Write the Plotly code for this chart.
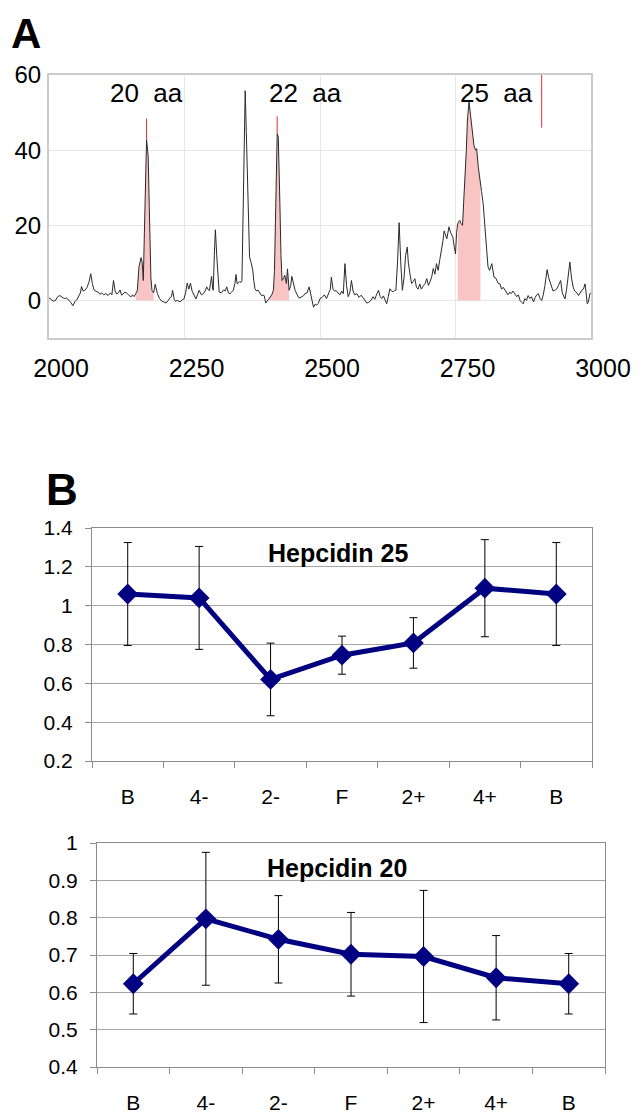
import plotly.graph_objects as go

# ---------------- Panel A : mass spectrum ----------------
mz = [2000,2004,2008,2012,2016,2020,2024,2028,2032,2036,2040,2044,2048,2052,2055,2058,2060,2063,2066,2070,
      2074,2077,2080,2083,2087,2091,2094,2097,2101,2105,2109,2113,2116,2119,2122,2125,2128,2131,2134,2137,
      2140,2143,2147,2151,2154,2157,2160,2163,2166,2168,2170,2172,2174,2176,2178,2180,2182,2183,2185,2186,
      2188,2190,2193,2196,2198,2200,2204,2208,2212,2216,2220,2223,2226,2228,2231,2233,2237,2242,2246,2249,
      2252,2255,2258,2261,2264,2266,2269,2271,2274,2277,2281,2285,2288,2291,2294,2296,2298,2300,2302,2303,
      2305,2307,2310,2312,2314,2318,2322,2325,2328,2331,2334,2337,2340,2343,2345,2347,2349,2352,2354,2356,
      2358,2360,2362,2364,2366,2368,2370,2373,2376,2378,2380,2383,2386,2389,2392,2395,2397,2400,2403,2406,
      2408,2411,2414,2416,2417,2419,2421,2423,2425,2426,2428,2430,2433,2435,2438,2440,2443,2446,2448,2451,
      2454,2458,2461,2463,2467,2470,2472,2476,2480,2483,2486,2488,2491,2494,2497,2500,2504,2508,2512,2516,
      2519,2521,2524,2527,2530,2533,2537,2540,2543,2546,2549,2552,2555,2558,2561,2564,2568,2572,2576,2580,
      2583,2586,2590,2594,2598,2601,2605,2608,2611,2614,2617,2620,2623,2626,2629,2632,2635,2638,2640,2643,
      2646,2649,2652,2655,2658,2661,2663,2666,2669,2672,2675,2678,2681,2684,2687,2691,2694,2697,2700,2703,
      2706,2709,2712,2715,2718,2721,2724,2727,2729,2732,2734,2736,2738,2741,2745,2748,2750,2752,2754,2756,
      2758,2760,2763,2765,2768,2770,2772,2775,2778,2780,2782,2784,2787,2789,2792,2794,2796,2798,2801,2804,
      2806,2808,2810,2813,2817,2819,2821,2824,2826,2829,2832,2835,2838,2841,2844,2847,2850,2853,2856,2860,
      2863,2866,2869,2872,2875,2878,2881,2884,2887,2890,2894,2897,2900,2903,2906,2909,2912,2915,2919,2922,
      2925,2927,2930,2934,2937,2940,2944,2947,2950,2952,2955,2958,2961,2964,2967,2970,2974,2977,2980,2983,
      2986,2989,2991,2993,2995,2998,3000]
intensity = [0.7,0.2,-0.2,0.0,1.0,1.3,0.8,0.5,0.6,0.2,-0.5,-1.4,-0.3,0.3,1.2,2.0,3.7,2.5,2.7,3.4,
      5.0,7.1,4.5,2.8,2.4,2.2,1.6,2.0,1.5,1.8,1.3,2.0,1.5,5.3,2.5,1.7,2.0,2.8,1.4,1.7,
      2.2,2.0,1.5,0.9,1.5,1.0,1.8,2.7,9.0,10.7,11.4,10.0,5.3,18.0,35.0,42.7,40.0,38.2,25.0,16.0,
      6.0,2.7,2.0,4.3,3.0,1.8,0.5,-0.2,-0.4,-0.7,0.0,0.7,1.0,2.7,0.3,-0.2,0.0,-0.4,0.2,0.4,
      2.0,4.6,3.0,4.6,2.5,1.8,0.8,0.4,1.5,2.7,1.5,1.8,2.5,3.6,2.8,2.6,4.5,6.4,3.0,2.7,
      12.0,18.8,10.7,5.0,2.2,2.0,2.8,2.5,3.6,2.0,1.8,2.2,2.7,4.5,6.9,4.5,4.6,5.0,4.8,5.3,
      25.0,45.0,55.8,45.0,32.9,20.0,11.6,10.0,8.0,5.0,3.1,2.5,2.7,2.0,1.3,1.4,1.3,-0.7,0.0,0.8,
      0.9,1.5,2.7,8.0,14.2,30.0,44.4,43.6,35.0,25.8,12.0,5.3,6.0,6.7,4.5,8.4,2.7,4.0,6.4,4.0,
      2.7,1.5,0.7,0.7,1.0,1.3,1.8,2.0,3.6,1.5,-0.5,-1.8,-1.0,-1.2,-0.8,0.5,0.8,1.5,0.5,2.0,
      3.0,6.2,3.0,2.5,2.6,2.0,1.5,2.5,1.8,9.8,4.0,1.0,2.0,5.3,2.5,1.5,1.8,0.8,1.4,0.6,
      -0.2,-0.7,-0.5,0.0,1.0,0.3,1.8,2.7,1.0,0.5,1.2,0.2,-0.9,1.0,3.1,2.5,2.3,2.7,2.7,10.0,
      20.7,10.0,2.7,6.0,12.0,14.2,10.0,7.0,4.5,5.0,5.8,3.5,3.0,4.4,3.0,4.0,4.5,5.8,4.0,5.0,
      6.2,8.5,7.0,9.8,8.0,10.8,13.0,16.0,18.5,17.0,16.4,18.0,19.6,18.0,16.9,14.0,12.4,18.0,20.4,21.0,
      21.3,20.5,20.0,26.0,32.9,40.0,48.0,52.9,49.0,46.2,44.0,41.3,40.0,40.4,35.6,33.0,31.1,29.0,25.8,20.0,
      16.0,14.2,8.9,8.0,9.8,8.0,6.2,6.0,5.3,4.5,4.4,3.0,3.5,2.7,2.0,1.5,2.2,1.8,2.5,1.8,
      1.0,1.5,0.0,-0.5,-0.9,0.5,0.0,1.3,0.5,1.0,-0.4,0.8,1.5,1.8,0.5,0.0,1.5,4.0,8.2,6.0,
      4.5,3.6,2.5,2.8,3.1,4.0,5.3,2.0,1.0,0.4,3.0,6.0,10.2,6.0,3.6,2.5,2.0,1.3,2.0,2.7,
      3.0,4.4,2.0,-0.9,-0.5,1.8,2.0]

peak_labels = ["20\u00a0\u00a0aa", "22\u00a0\u00a0aa", "25\u00a0\u00a0aa"]
fill_start = [2159, 2404, 2754]
fill_end = [2195, 2443, 2797]
mark_mz = [2180, 2421, 2909]
mark_lo = [42.7, 44.4, 46.0]
mark_hi = [48.4, 49.0, 60.0]

# ---------------- Panel B : hepcidin time course ----------------
timepoints = ["B", "4-", "2-", "F", "2+", "4+", "B"]
hep25 = [1.06, 1.04, 0.62, 0.745, 0.808, 1.09, 1.06]
hep25_err = [0.265, 0.265, 0.187, 0.098, 0.13, 0.25, 0.265]
hep20 = [0.623, 0.797, 0.742, 0.702, 0.696, 0.639, 0.623]
hep20_err = [0.081, 0.178, 0.117, 0.112, 0.177, 0.113, 0.081]

FONT = "Liberation Sans, Arial, sans-serif"
NAVY = "#000080"
PINK = "rgba(248,196,196,1)"

# The page body has an 8px default margin, so the figure is drawn 8px in from the
# window's corner; size it so that it fills the 642x1120 window exactly.
OFF = 8
W, H = 642 - OFF, 1120 - OFF


def fx(px):
    return (px - OFF) / W


def fy(py):
    return 1 - (py - OFF) / H


fig = go.Figure()

for s, e in zip(fill_start, fill_end):
    xs = [m for m in mz if s <= m <= e]
    ys = [v for m, v in zip(mz, intensity) if s <= m <= e]
    fig.add_trace(go.Scatter(x=xs, y=ys, mode="lines", fill="tozeroy",
                             fillcolor=PINK, line=dict(width=0, color=PINK),
                             hoverinfo="skip", showlegend=False, xaxis="x", yaxis="y"))

fig.add_trace(go.Scatter(x=mz, y=intensity, mode="lines",
                         line=dict(color="#2a2a2a", width=1),
                         showlegend=False, xaxis="x", yaxis="y"))

sx, sy = [], []
for m, lo, hi in zip(mark_mz, mark_lo, mark_hi):
    sx += [m, m, None]
    sy += [lo, hi, None]
fig.add_trace(go.Scatter(x=sx, y=sy, mode="lines", line=dict(color="#e03030", width=1),
                         showlegend=False, xaxis="x", yaxis="y"))

xpos = list(range(len(timepoints)))
for vals, errs, xa, ya in [(hep25, hep25_err, "x2", "y2"), (hep20, hep20_err, "x3", "y3")]:
    fig.add_trace(go.Scatter(
        x=xpos, y=vals, mode="lines+markers",
        line=dict(color=NAVY, width=5),
        marker=dict(symbol="diamond", size=16, color=NAVY),
        error_y=dict(type="data", array=errs, visible=True, color="#000000",
                     thickness=1, width=4),
        showlegend=False, xaxis=xa, yaxis=ya))

ann = []
for lab, px in zip(peak_labels, [146, 305, 496]):
    ann.append(dict(x=fx(px), y=fy(93), xref="paper", yref="paper",
                    text=lab, showarrow=False, xanchor="center", yanchor="middle",
                    font=dict(family=FONT, size=26, color="black")))
ann.append(dict(x=fx(26), y=1.0, xref="paper", yref="paper", text="<b>A</b>",
                showarrow=False, xanchor="center", yanchor="top",
                font=dict(family=FONT, size=42, color="black")))
ann.append(dict(x=fx(62), y=fy(490), xref="paper", yref="paper", text="<b>B</b>",
                showarrow=False, xanchor="center", yanchor="middle",
                font=dict(family=FONT, size=44, color="black")))
ann.append(dict(x=fx(338), y=fy(553), xref="paper", yref="paper",
                text="<b>Hepcidin 25</b>", showarrow=False, xanchor="center", yanchor="middle",
                font=dict(family=FONT, size=25, color="black")))
ann.append(dict(x=fx(337), y=fy(868), xref="paper", yref="paper",
                text="<b>Hepcidin 20</b>", showarrow=False, xanchor="center", yanchor="middle",
                font=dict(family=FONT, size=25, color="black")))

GRID_B = "#a6a6a6"
LINE_B = "#8c8c8c"

bx_common = dict(range=[-0.5, 6.5], tickmode="array", tickvals=xpos, ticktext=timepoints,
                 ticks="", showgrid=False, zeroline=False, automargin=False,
                 showline=True, mirror=True, linecolor=LINE_B, linewidth=1,
                 tickfont=dict(family=FONT, size=21, color="black"),
                 minor=dict(tick0=-0.5, dtick=1, ticks="outside", ticklen=6,
                            tickcolor=LINE_B, showgrid=False),
                 ticklabelstandoff=17)
by_common = dict(showgrid=True, gridcolor=GRID_B, gridwidth=1, zeroline=False, automargin=False,
                 showline=True, mirror=True, linecolor=LINE_B, linewidth=1,
                 ticks="outside", ticklen=6, tickcolor=LINE_B,
                 tickfont=dict(family=FONT, size=21, color="black"),
                 ticklabelstandoff=8)

fig.update_layout(
    width=W, height=H,
    margin=dict(l=0, r=0, t=0, b=0, autoexpand=False),
    paper_bgcolor="white", plot_bgcolor="white",
    showlegend=False,
    annotations=ann,
    xaxis=dict(domain=[fx(49), fx(591)], anchor="y", range=[2000, 3000], automargin=False,
               tickmode="linear", tick0=2000, dtick=250, ticks="",
               showgrid=True, gridcolor="#e6e6e6", zeroline=False,
               showline=True, mirror=True, linecolor="#cccccc", linewidth=2,
               tickfont=dict(family=FONT, size=25, color="black"),
               ticklabelshift=12, ticklabelstandoff=7),
    yaxis=dict(domain=[fy(338), fy(75)], anchor="x", range=[-10, 60], automargin=False,
               tickmode="array", tickvals=[0, 20, 40, 60], ticks="",
               showgrid=True, gridcolor="#e6e6e6", zeroline=False,
               showline=True, mirror=True, linecolor="#cccccc", linewidth=2,
               tickfont=dict(family=FONT, size=24, color="black"),
               ticklabelstandoff=1),
    xaxis2=dict(domain=[fx(92), fx(592)], anchor="y2", **bx_common),
    yaxis2=dict(domain=[fy(761), fy(528)], anchor="x2", range=[0.2, 1.4],
                tickmode="linear", tick0=0.2, dtick=0.2, **by_common),
    xaxis3=dict(domain=[fx(97), fx(605)], anchor="y3", **bx_common),
    yaxis3=dict(domain=[fy(1067), fy(843)], anchor="x3", range=[0.4, 1.0],
                tickmode="linear", tick0=0.4, dtick=0.1, **by_common),
)

fig.write_html("out.html")
